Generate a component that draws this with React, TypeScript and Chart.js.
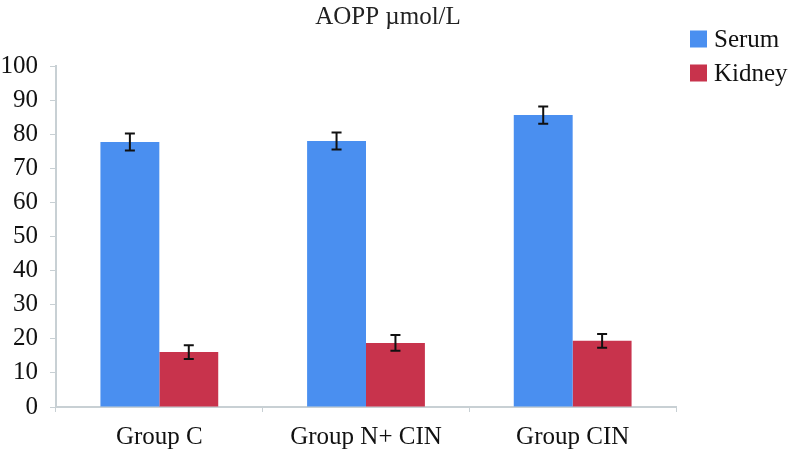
import React, { useEffect, useRef } from "react";
import { Chart, registerables } from "chart.js";

Chart.register(...registerables);

const categories = ["Group C", "Group N+ CIN", "Group CIN"];
const serumValues = [77.7, 78.0, 85.6];
const serumErrors = [2.5, 2.5, 2.5];
const kidneyValues = [16.1, 18.8, 19.4];
const kidneyErrors = [2.0, 2.3, 2.0];
const yTicks = [0, 10, 20, 30, 40, 50, 60, 70, 80, 90, 100];
const titleText = "AOPP µmol/L";

const FONT = "'Liberation Serif', 'DejaVu Serif', serif";

const errorBarPlugin = {
  id: "errorBars",
  afterDatasetsDraw(chart: any) {
    const ctx = chart.ctx;
    const yScale = chart.scales.y;
    chart.data.datasets.forEach((ds: any, di: number) => {
      const meta = chart.getDatasetMeta(di);
      const errs = ds.errors as number[];
      meta.data.forEach((bar: any, i: number) => {
        const v = ds.data[i];
        const e = errs[i];
        const x = bar.x;
        const yTop = yScale.getPixelForValue(v + e);
        const yBot = yScale.getPixelForValue(v - e);
        ctx.save();
        ctx.strokeStyle = "#111";
        ctx.lineWidth = 2;
        ctx.beginPath();
        ctx.moveTo(x, yTop);
        ctx.lineTo(x, yBot);
        ctx.moveTo(x - 5, yTop);
        ctx.lineTo(x + 5, yTop);
        ctx.moveTo(x - 5, yBot);
        ctx.lineTo(x + 5, yBot);
        ctx.stroke();
        ctx.restore();
      });
    });
  },
};

// Title and legend drawn in the reserved top / right margins
const decorPlugin = {
  id: "decor",
  afterDraw(chart: any) {
    const ctx = chart.ctx;
    ctx.save();
    // title
    ctx.fillStyle = "#222";
    ctx.font = `25px ${FONT}`;
    ctx.textAlign = "center";
    ctx.textBaseline = "alphabetic";
    const titleX = (chart.chartArea.left + chart.width) / 2 - 37;
    ctx.fillText(titleText, titleX, 24);
    // legend
    const x0 = chart.chartArea.right + 14;
    const y0 = 39;
    const step = 34;
    chart.data.datasets.forEach((ds: any, i: number) => {
      const cy = y0 + i * step;
      ctx.fillStyle = ds.backgroundColor;
      ctx.fillRect(x0, cy - 8.5, 17, 17);
      ctx.fillStyle = "#111";
      ctx.font = `25px ${FONT}`;
      ctx.textBaseline = "middle";
      ctx.textAlign = "left";
      ctx.fillText(ds.label, x0 + 24, cy + 1);
    });
    ctx.restore();
  },
};

export default function App() {
  const ref = useRef<HTMLCanvasElement | null>(null);
  useEffect(() => {
    if (!ref.current) return;
    const chart = new Chart(ref.current, {
      type: "bar",
      data: {
        labels: categories,
        datasets: [
          {
            label: "Serum",
            data: serumValues,
            errors: serumErrors,
            backgroundColor: "#4a8ff0",
            borderWidth: 0,
            categoryPercentage: 0.57,
            barPercentage: 1.0,
          } as any,
          {
            label: "Kidney",
            data: kidneyValues,
            errors: kidneyErrors,
            backgroundColor: "#c8334c",
            borderWidth: 0,
            categoryPercentage: 0.57,
            barPercentage: 1.0,
          } as any,
        ],
      },
      options: {
        animation: false,
        responsive: false,
        maintainAspectRatio: false,
        layout: { padding: { top: 66, right: 118, left: 0, bottom: 3 } },
        plugins: {
          title: { display: false },
          legend: { display: false },
          tooltip: { enabled: false },
        },
        scales: {
          x: {
            grid: {
              drawOnChartArea: false,
              drawTicks: true,
              tickLength: 5,
              color: "#c8d0d4",
            },
            border: { color: "#c8d0d4", width: 2 },
            ticks: {
              color: "#111",
              font: { family: FONT, size: 25 },
              padding: 10,
            },
          },
          y: {
            min: 0,
            max: 100,
            afterBuildTicks: (axis: any) => {
              axis.ticks = yTicks.map((v) => ({ value: v }));
            },
            afterFit: (axis: any) => {
              axis.width = 56;
            },
            grid: {
              drawOnChartArea: false,
              drawTicks: true,
              tickLength: 6,
              color: "#c8d0d4",
            },
            border: { color: "#c8d0d4", width: 2 },
            ticks: {
              color: "#111",
              font: { family: FONT, size: 25 },
              padding: 12,
            },
          },
        },
      },
      plugins: [errorBarPlugin, decorPlugin],
    } as any);
    return () => chart.destroy();
  }, []);
  return (
    <div style={{ position: "fixed", left: 0, top: 0, width: 794, height: 465, background: "#fff" }}>
      <canvas ref={ref} width={794} height={465} style={{ width: 794, height: 465 }} />
    </div>
  );
}
